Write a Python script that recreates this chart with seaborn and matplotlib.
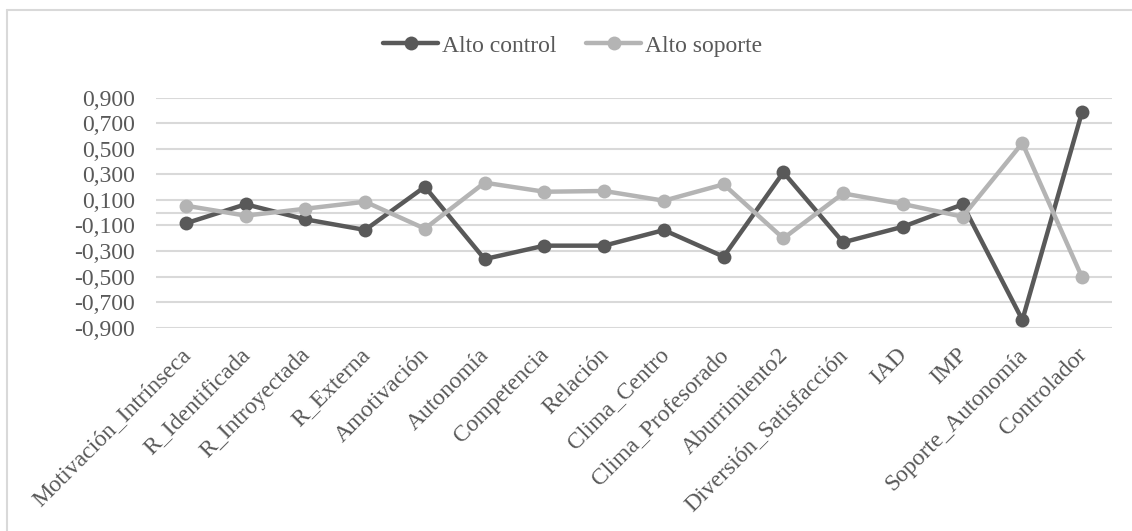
import numpy as np
import pandas as pd
import matplotlib
matplotlib.use("Agg")
import matplotlib.pyplot as plt
from matplotlib.lines import Line2D
from matplotlib.ticker import FuncFormatter
from matplotlib.transforms import ScaledTranslation
import seaborn as sns

# categories along the x axis
categories = [
    "Motivación_Intrínseca", "R_Identificada", "R_Introyectada", "R_Externa",
    "Amotivación", "Autonomía", "Competencia", "Relación", "Clima_Centro",
    "Clima_Profesorado", "Aburrimiento2", "Diversión_Satisfacción", "IAD",
    "IMP", "Soporte_Autonomía", "Controlador",
]

# values
alto_control = [-0.083, 0.066, -0.052, -0.135, 0.203, -0.363, -0.258, -0.258,
                -0.136, -0.344, 0.316, -0.232, -0.110, 0.065, -0.839, 0.790]
alto_soporte = [0.055, -0.023, 0.031, 0.086, -0.125, 0.235, 0.164, 0.170,
                0.094, 0.222, -0.201, 0.151, 0.068, -0.031, 0.545, -0.507]

series_names = ["Alto control", "Alto soporte"]
y_ticks = [-0.9, -0.7, -0.5, -0.3, -0.1, 0.1, 0.3, 0.5, 0.7, 0.9]

DARK = "#595959"
LIGHT = "#b4b4b4"
GRID = "#d9d9d9"
TEXT = "#595959"

df = pd.DataFrame({
    "categoria": categories * 2,
    "valor": alto_control + alto_soporte,
    "serie": [series_names[0]] * len(categories) + [series_names[1]] * len(categories),
})

sns.set_theme(style="white")
plt.rcParams["font.family"] = ["Liberation Serif", "DejaVu Serif"]
plt.rcParams["text.color"] = TEXT

fig = plt.figure(figsize=(11.32, 5.31), dpi=100)
ax = fig.add_axes([156 / 1132, 1 - 327.7 / 531, (1112 - 156) / 1132, (327.7 - 97.7) / 531])

sns.lineplot(
    data=df, x="categoria", y="valor", hue="serie", style="serie",
    palette={series_names[0]: DARK, series_names[1]: LIGHT},
    markers={series_names[0]: "o", series_names[1]: "o"},
    dashes=False, linewidth=3.2, markersize=10, markeredgewidth=0,
    sort=False, ax=ax, zorder=3,
)

ax.set_xlim(-0.5, len(categories) - 0.5)
ax.set_ylim(-0.9, 0.9)
ax.set_yticks(y_ticks)
ax.yaxis.set_major_formatter(FuncFormatter(lambda v, p: f"{v:.3f}".replace(".", ",")))
ax.grid(axis="y", color=GRID, linewidth=1.5, zorder=0)
ax.grid(axis="x", visible=False)
ax.axhline(0, color=GRID, linewidth=1.5, zorder=1)
for s in ax.spines.values():
    s.set_visible(False)

ax.set_xlabel("")
ax.set_ylabel("")
ax.tick_params(axis="y", length=0, pad=15, labelsize=17, labelcolor=TEXT)
ax.tick_params(axis="x", length=0, pad=12, labelsize=17, labelcolor=TEXT)
ax.set_xticks(range(len(categories)))
ax.set_xticklabels(categories, rotation=45, ha="right", rotation_mode="anchor")
shift = ScaledTranslation(-6 / 100, 0, fig.dpi_scale_trans)
for lbl in ax.get_xticklabels():
    lbl.set_transform(lbl.get_transform() + shift)

handles, labels = ax.get_legend_handles_labels()
for h in handles:
    h.set_linewidth(3.2)
    h.set_markersize(10)
    h.set_markeredgewidth(0)
ax.legend(
    handles, labels, loc="center", bbox_to_anchor=(573 / 1132, 1 - 46 / 531),
    bbox_transform=fig.transFigure, ncol=2, frameon=False, fontsize=17,
    handlelength=2.3, handletextpad=0.2, columnspacing=1.25,
)

# light frame around the chart area
fig.add_artist(Line2D([7 / 1132, 1.0], [1 - 10 / 531, 1 - 10 / 531],
                      transform=fig.transFigure, color=GRID, linewidth=1.5))
fig.add_artist(Line2D([7 / 1132, 7 / 1132], [0.0, 1 - 10 / 531],
                      transform=fig.transFigure, color=GRID, linewidth=1.5))

fig.savefig("out.png", dpi=100, facecolor="white")
